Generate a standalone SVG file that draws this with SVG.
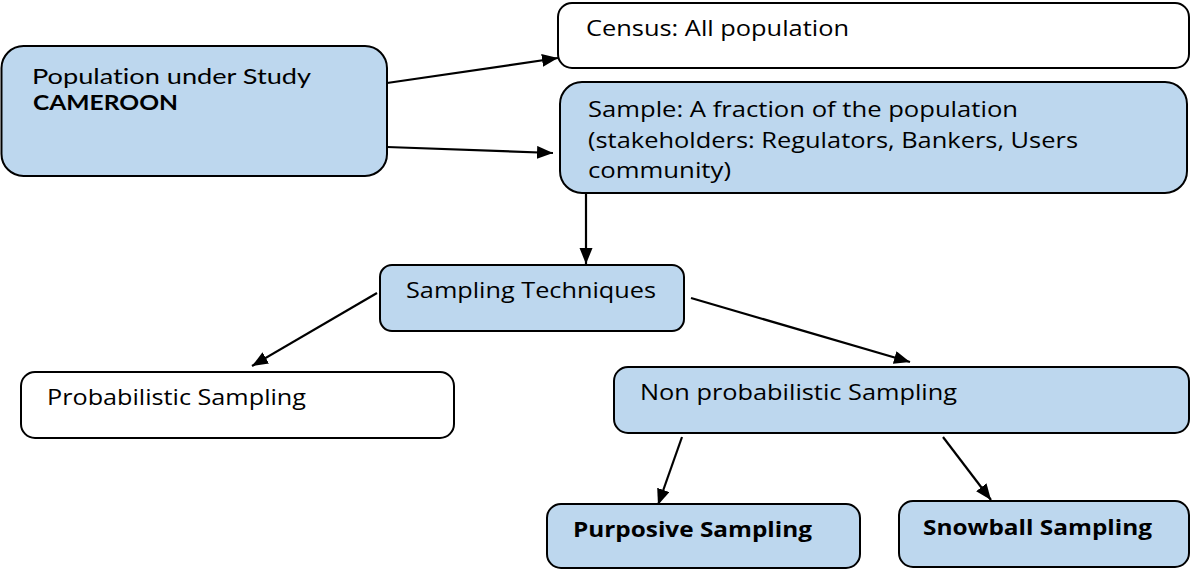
<svg xmlns="http://www.w3.org/2000/svg" width="1192" height="569" viewBox="0 0 1192 569">
<style>
.box{stroke:#000;stroke-width:2}
.blue{fill:#bdd7ee}
.white{fill:#fff}
.t{font-family:"Open Sans",Lato,"Liberation Sans",sans-serif;font-size:21.5px;fill:#000;font-variant-ligatures:none}
.l{font-family:Lato,"Open Sans",sans-serif;font-size:21.5px}
.b{font-weight:bold}
.c{stroke:#000;stroke-width:2.2;fill:none;marker-end:url(#ah)}
</style>
<defs>
<marker id="ah" markerUnits="userSpaceOnUse" markerWidth="17" markerHeight="14" refX="16" refY="6.5" orient="auto">
<path d="M0,0 L16,6.5 L0,13 z" fill="#000"/>
</marker>
</defs>
<rect width="1192" height="569" fill="#fff"/>
<g id="connectors">
<line class="c" x1="387" y1="83" x2="558" y2="58"/>
<line class="c" x1="387" y1="147" x2="553" y2="153"/>
<line class="c" x1="586" y1="194" x2="586" y2="264"/>
<line class="c" x1="377" y1="293" x2="252" y2="366"/>
<line class="c" x1="691" y1="298" x2="910" y2="362"/>
<line class="c" x1="682" y1="437" x2="658" y2="505"/>
<line class="c" x1="943" y1="437" x2="991" y2="500"/>
</g>
<g id="population">
<rect class="box blue" x="1.5" y="46" width="385.5" height="130" rx="22"/>
<text class="t l" x="32" y="83.5" textLength="279" lengthAdjust="spacingAndGlyphs">Population under Study</text>
<text class="t l b" x="33" y="109.5" textLength="145" lengthAdjust="spacingAndGlyphs">CAMEROON</text>
</g>
<g id="census">
<rect class="box white" x="558" y="3" width="631" height="65" rx="14"/>
<text class="t" x="586" y="36" textLength="263" lengthAdjust="spacingAndGlyphs">Census: All population</text>
</g>
<g id="sample">
<rect class="box blue" x="560" y="82" width="627" height="111" rx="22"/>
<text class="t" x="588" y="117" textLength="430" lengthAdjust="spacingAndGlyphs">Sample: A fraction of the population</text>
<text class="t" x="588" y="148" textLength="490" lengthAdjust="spacingAndGlyphs">(stakeholders: Regulators, Bankers, Users</text>
<text class="t" x="588" y="178" textLength="143" lengthAdjust="spacingAndGlyphs">community)</text>
</g>
<g id="techniques">
<rect class="box blue" x="380" y="265" width="304" height="66" rx="12"/>
<text class="t" x="406" y="298" textLength="250" lengthAdjust="spacingAndGlyphs">Sampling Techniques</text>
</g>
<g id="probabilistic">
<rect class="box white" x="21" y="372" width="433" height="66" rx="14"/>
<text class="t" x="47" y="405" textLength="259" lengthAdjust="spacingAndGlyphs">Probabilistic Sampling</text>
</g>
<g id="nonprobabilistic">
<rect class="box blue" x="614" y="367" width="575" height="66" rx="14"/>
<text class="t" x="640" y="400" textLength="317" lengthAdjust="spacingAndGlyphs">Non probabilistic Sampling</text>
</g>
<g id="purposive">
<rect class="box blue" x="547" y="504" width="313" height="64" rx="14"/>
<text class="t b" x="573" y="537" textLength="239" lengthAdjust="spacingAndGlyphs">Purposive Sampling</text>
</g>
<g id="snowball">
<rect class="box blue" x="899" y="501" width="290" height="66" rx="14"/>
<text class="t b" x="923" y="535" textLength="229" lengthAdjust="spacingAndGlyphs">Snowball Sampling</text>
</g>
</svg>
